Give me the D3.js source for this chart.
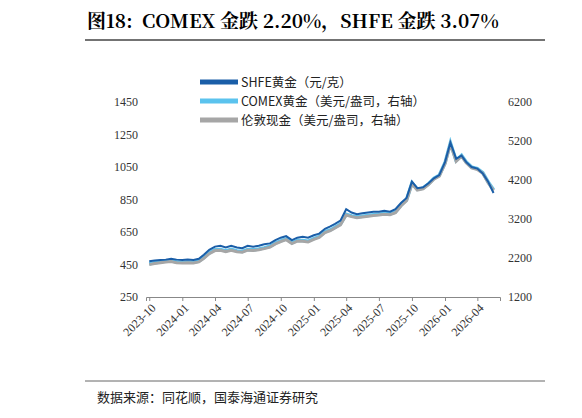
<!DOCTYPE html><html><head><meta charset="utf-8"><script src="https://cdn.jsdelivr.net/npm/d3@7"></script>
<style>body{margin:0;background:#fff}</style></head><body><svg id="c" width="582" height="418"></svg>
<script>
const months=[];for(let y=2023,m=10;;){months.push(new Date(y,m-1,1));months.push(new Date(y,m-1,16));m++;if(m>12){m=1;y++;}if(y===2026&&m===6)break;}
const shfe=[470,475,478,480,485,480,478,480,478,485,510,540,560,565,555,565,555,550,565,560,565,575,580,600,615,625,600,615,620,615,630,640,670,685,700,720,790,770,760,765,770,775,775,780,775,790,830,860,960,920,925,950,980,1000,1080,1200,1100,1120,1080,1050,1040,1010,960,890];
const comex=[2050,2080,2100,2120,2130,2100,2090,2100,2090,2120,2210,2330,2410,2420,2380,2420,2380,2370,2420,2410,2430,2460,2500,2580,2640,2690,2590,2650,2650,2630,2700,2750,2870,2920,2990,3070,3320,3280,3250,3270,3290,3310,3320,3340,3330,3380,3560,3690,4120,3960,3990,4100,4240,4320,4640,5150,4700,4830,4660,4530,4490,4390,4150,3950];
const london=[2030,2060,2080,2100,2110,2080,2070,2080,2070,2100,2190,2310,2390,2400,2360,2400,2360,2350,2400,2390,2410,2440,2480,2560,2620,2670,2570,2630,2630,2610,2680,2730,2850,2900,2970,3050,3300,3260,3230,3250,3270,3290,3300,3320,3310,3360,3540,3670,4100,3940,3970,4080,4220,4300,4620,5120,4680,4810,4640,4510,4470,4370,4130,3930];
const leftTicks=[250,450,650,850,1050,1250,1450];
const rightTicks=[1200,2200,3200,4200,5200,6200];
const xTicks=["2023-10","2024-01","2024-04","2024-07","2024-10","2025-01","2025-04","2025-07","2025-10","2026-01","2026-04"];
const seriesNames=["SHFE黄金（元/克）","COMEX黄金（美元/盎司，右轴）","伦敦现金（美元/盎司，右轴）"];
const colors=["#1a5ea8","#5bc3ee","#a6a6a6"];
const svg=d3.select("#c");const F="'Noto Sans CJK SC',sans-serif";
svg.append("text").attr("x",87).attr("y",28).attr("font-family","'Noto Serif CJK SC','Liberation Serif',"+F).attr("font-weight","bold").attr("font-size",19).attr("xml:space","preserve").text("图18:  COMEX 金跌 2.20%，SHFE 金跌 3.07%");
svg.append("line").attr("x1",85).attr("x2",545).attr("y1",40).attr("y2",40).attr("stroke","#444").attr("stroke-width",1.5);
const x=d3.scaleTime().domain([new Date(2023,8,22),new Date(2026,5,3)]).range([146,500]);
const yl=d3.scaleLinear().domain([250,1450]).range([297,102]);
const yr=d3.scaleLinear().domain([1200,6200]).range([297,102]);
const ax=svg.append("g").attr("transform","translate(0,297)").call(d3.axisBottom(x).tickValues(xTicks.map(s=>new Date(+s.slice(0,4),+s.slice(5)-1,1))).tickFormat(d3.timeFormat("%Y-%m")).tickSizeOuter(0).tickSize(4));
ax.selectAll("text").attr("transform","rotate(-45)").attr("text-anchor","end").attr("dx","-0.3em").attr("dy","0.5em");
const al=svg.append("g").attr("transform","translate(146,0)").call(d3.axisLeft(yl).tickValues(leftTicks).tickFormat(d3.format("d")).tickSize(0).tickPadding(8));
const ar=svg.append("g").attr("transform","translate(500,0)").call(d3.axisRight(yr).tickValues(rightTicks).tickFormat(d3.format("d")).tickSize(0).tickPadding(8));
al.select(".domain").remove();ar.select(".domain").remove();
svg.selectAll(".tick text").attr("font-family","'Liberation Serif',serif").attr("font-size",12).attr("fill","#333");
svg.selectAll(".domain").attr("stroke","#888");svg.selectAll(".tick line").attr("stroke","#888");
const lineL=d3.line().x((d,i)=>x(months[i])).y(d=>yl(d));
const lineR=d3.line().x((d,i)=>x(months[i])).y(d=>yr(d));
svg.append("path").datum(comex).attr("d",lineR).attr("fill","none").attr("stroke",colors[1]).attr("stroke-width",3.5);
svg.append("path").datum(london).attr("d",lineR).attr("fill","none").attr("stroke",colors[2]).attr("stroke-width",3);
svg.append("path").datum(shfe).attr("d",lineL).attr("fill","none").attr("stroke",colors[0]).attr("stroke-width",2);
seriesNames.forEach((n,i)=>{const yy=82+i*19;
svg.append("line").attr("x1",200).attr("x2",238).attr("y1",yy).attr("y2",yy).attr("stroke",colors[i]).attr("stroke-width",5);
svg.append("text").attr("x",241).attr("y",yy+4.5).attr("font-family",F).attr("font-size",12.5).attr("fill","#222").text(n);});
svg.append("line").attr("x1",85).attr("x2",545).attr("y1",381).attr("y2",381).attr("stroke","#666");
svg.append("text").attr("x",97).attr("y",402).attr("font-family",F).attr("font-size",13).attr("fill","#222").text("数据来源：同花顺，国泰海通证券研究");
</script></body></html>
